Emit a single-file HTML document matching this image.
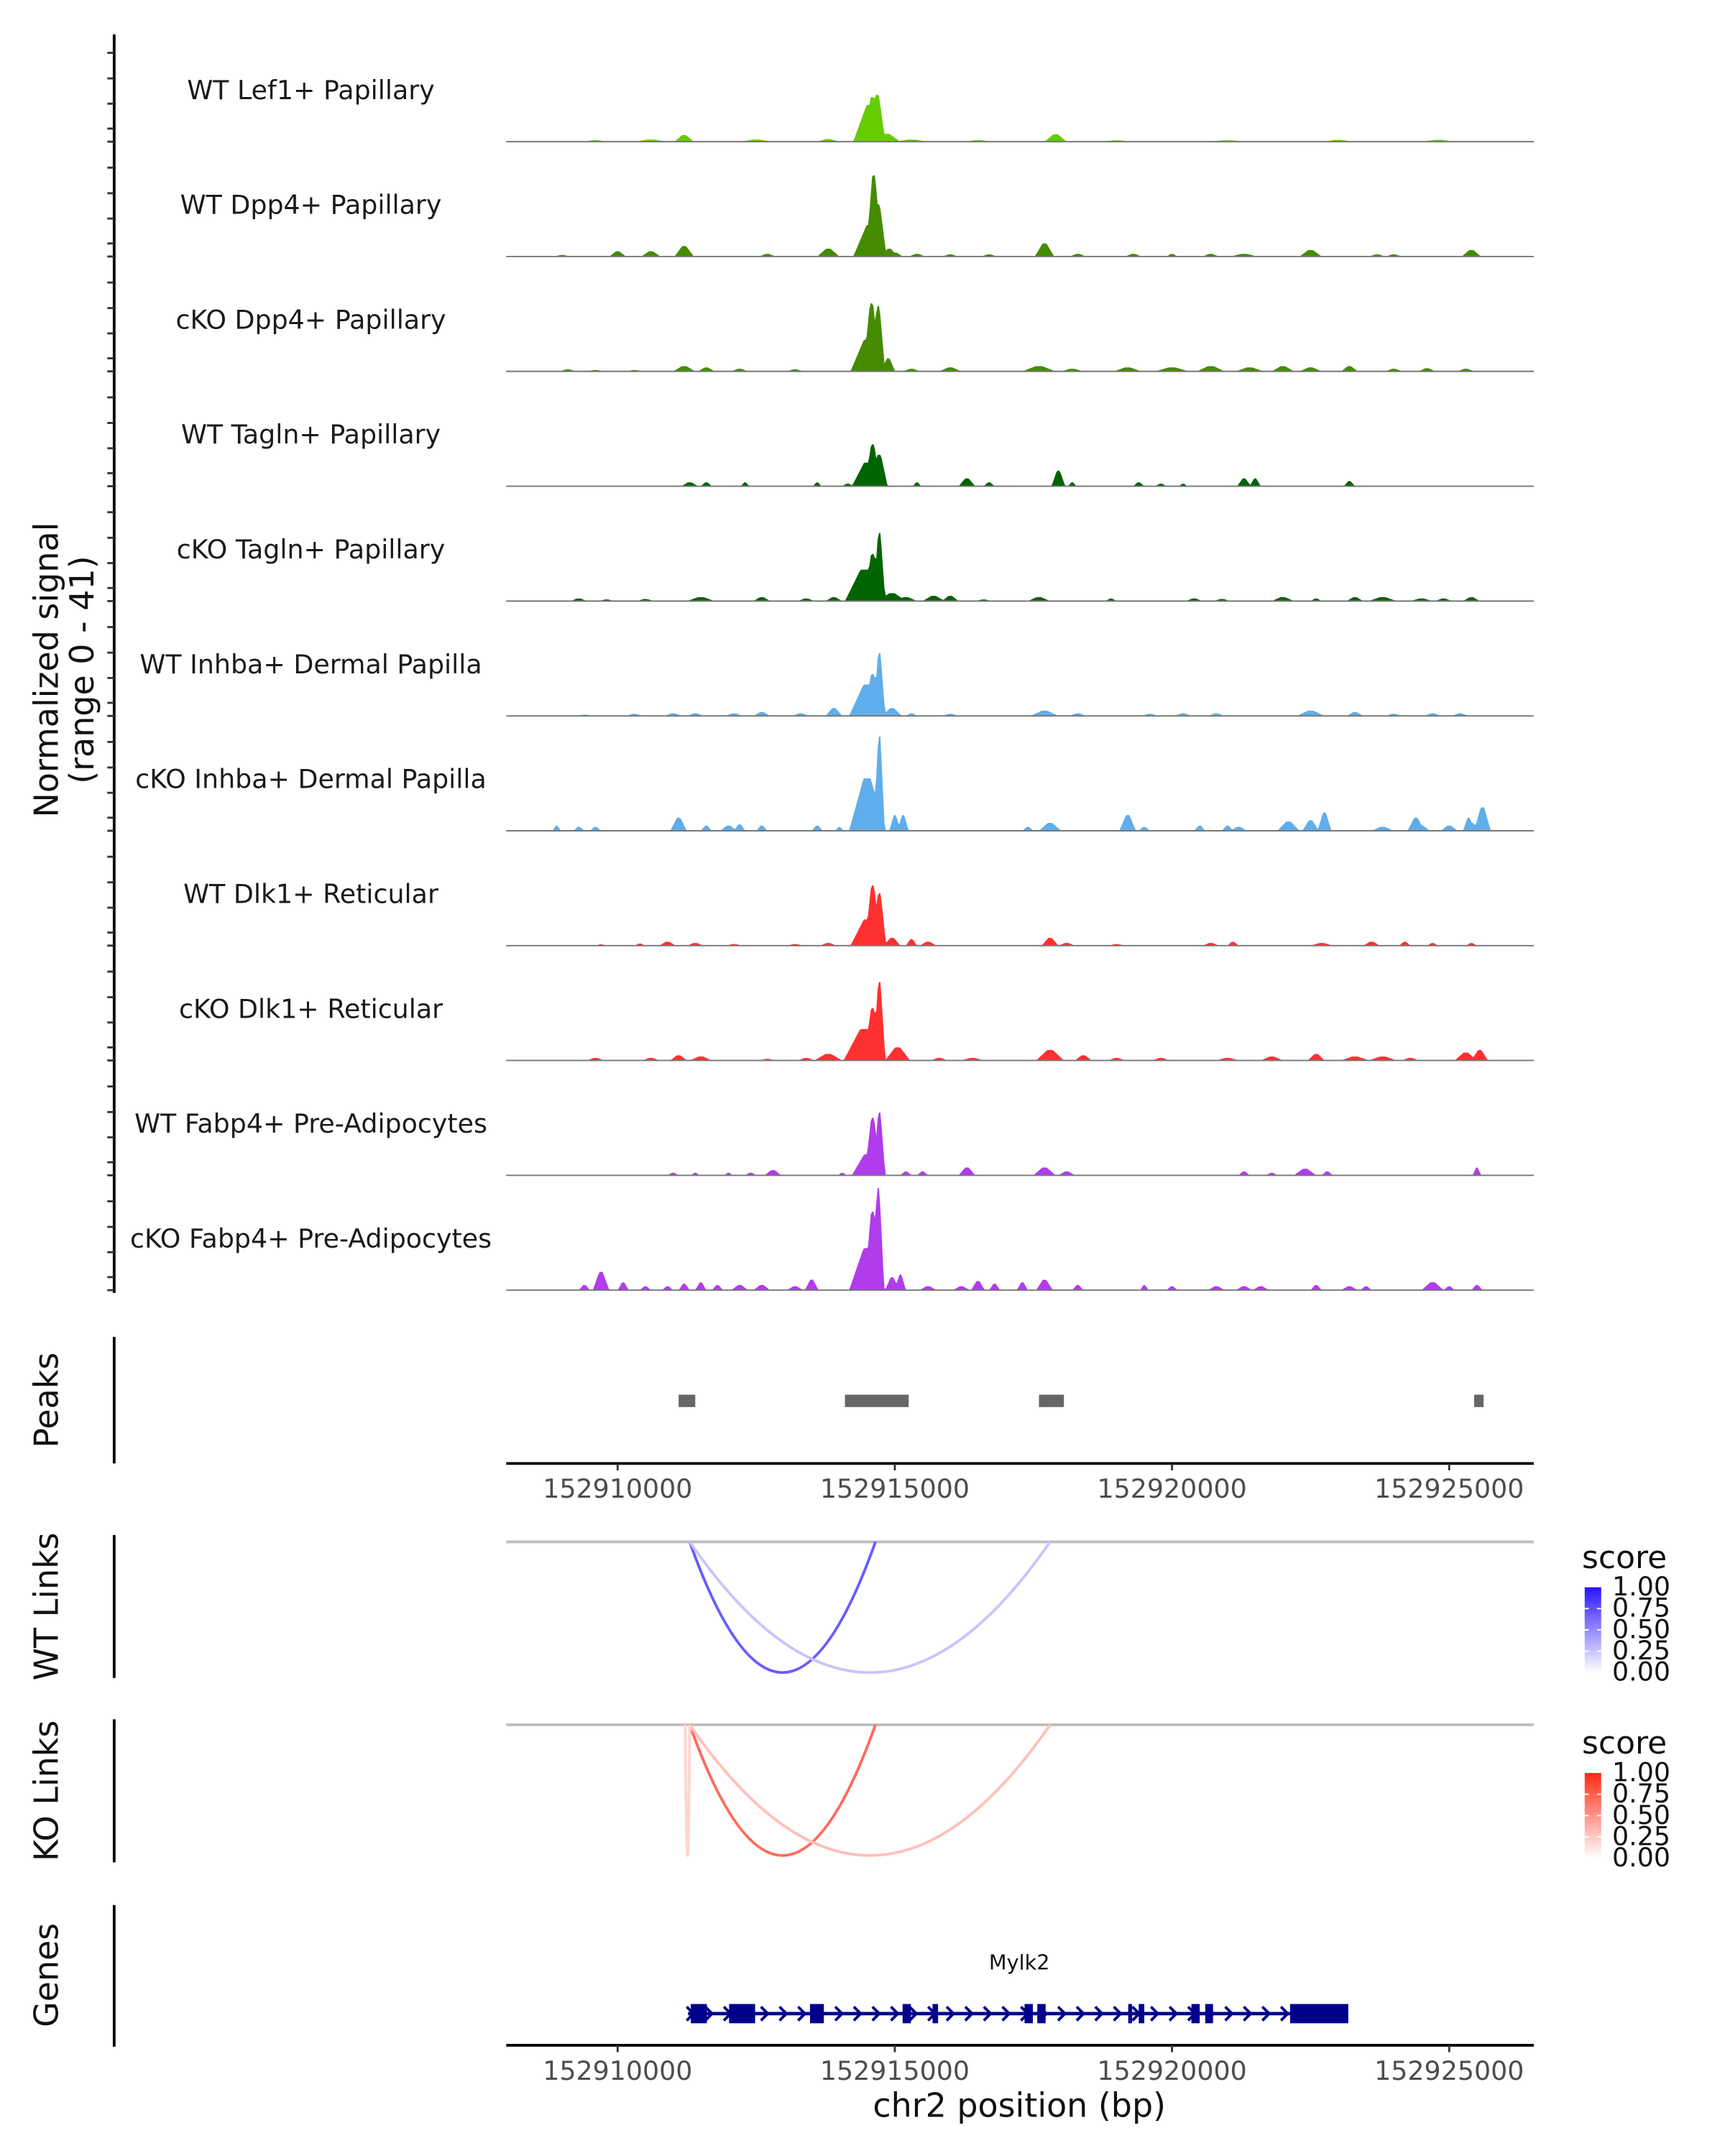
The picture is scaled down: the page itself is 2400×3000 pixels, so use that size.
<!DOCTYPE html>
<html><head><meta charset="utf-8"><style>
html,body{margin:0;padding:0;background:#fff}
svg{display:block}
text{font-family:"DejaVu Sans","Liberation Sans",sans-serif}
</style></head><body>
<svg id="chart" xmlns="http://www.w3.org/2000/svg" width="2400" height="3000" viewBox="0 0 1254 1567.5">
<rect x="0" y="0" width="1254" height="1567.5" fill="#fff"/>
<g id="tracks"></g>
<g id="yaxis"></g>
<text transform="translate(42,487) rotate(-90)" text-anchor="middle" font-size="24" fill="#111">Normalized signal</text>
<text transform="translate(68,487) rotate(-90)" text-anchor="middle" font-size="24" fill="#111">(range 0 - 41)</text>

<text transform="translate(42,1018) rotate(-90)" text-anchor="middle" font-size="24" fill="#111">Peaks</text>
<line x1="83" y1="972" x2="83" y2="1064" stroke="#000" stroke-width="2"/>
<g id="peaks"></g>
<g id="xaxis1"></g>

<text transform="translate(42,1168) rotate(-90)" text-anchor="middle" font-size="24" fill="#111">WT Links</text>
<line x1="83" y1="1116" x2="83" y2="1220" stroke="#000" stroke-width="2"/>
<g id="wtlinks"></g>

<text transform="translate(42,1302) rotate(-90)" text-anchor="middle" font-size="24" fill="#111">KO Links</text>
<line x1="83" y1="1250" x2="83" y2="1354" stroke="#000" stroke-width="2"/>
<g id="kolinks"></g>

<defs>
<linearGradient id="gb" x1="0" y1="0" x2="0" y2="1"><stop offset="0" stop-color="#2814ff"/><stop offset="1" stop-color="#ffffff"/></linearGradient>
<linearGradient id="gr" x1="0" y1="0" x2="0" y2="1"><stop offset="0" stop-color="#ff2a14"/><stop offset="1" stop-color="#ffffff"/></linearGradient>
</defs>
<g id="legends"></g>

<text transform="translate(42,1436) rotate(-90)" text-anchor="middle" font-size="24" fill="#111">Genes</text>
<line x1="83" y1="1385" x2="83" y2="1488" stroke="#000" stroke-width="2"/>
<g id="genes"></g>
<g id="xaxis2"></g>
<text x="741" y="1539" text-anchor="middle" font-size="24" fill="#111">chr2 position (bp)</text>
</svg>
<script>
// positions in kb offset from 152,900,000 bp; heights in normalized signal units; widths in kb
const trackNames = ["WT Lef1+ Papillary","WT Dpp4+ Papillary","cKO Dpp4+ Papillary","WT Tagln+ Papillary","cKO Tagln+ Papillary","WT Inhba+ Dermal Papilla","cKO Inhba+ Dermal Papilla","WT Dlk1+ Reticular","cKO Dlk1+ Reticular","WT Fabp4+ Pre-Adipocytes","cKO Fabp4+ Pre-Adipocytes"];
const trackColors = ["#66cc00","#458b00","#458b00","#006400","#006400","#5fadea","#5fadea","#ff3030","#ff3030","#b03ceb","#b03ceb"];
const sigLef1 = [[14.55,14,0.6],[14.6,17,0.35],[14.68,18,0.3],[14.85,3,0.5],[11.2,2.5,0.35],[17.9,2.8,0.4],[9.6,0.6,0.4],[10.6,0.8,0.6],[12.5,0.8,0.6],[13.8,1,0.4],[15.3,0.8,0.6],[16.5,0.6,0.5],[19.0,0.5,0.6],[21.0,0.5,0.8],[23.0,0.7,0.5],[24.8,0.7,0.6]];
const sigWTDpp4 = [[14.55,12,0.6],[14.62,31,0.28],[14.7,20,0.3],[14.9,3,0.3],[11.2,4,0.35],[10.0,2,0.3],[10.6,2,0.35],[13.8,3,0.4],[12.7,1,0.3],[15.0,1.5,0.3],[15.4,1,0.3],[17.7,5,0.35],[18.3,1,0.3],[19.3,1,0.3],[20.0,1,0.2],[21.3,1,0.5],[22.5,2.5,0.4],[24.0,0.8,0.3],[25.4,2.5,0.35],[9.0,0.6,0.3],[16.0,0.8,0.3],[16.7,0.8,0.3],[20.7,1,0.3],[23.7,0.8,0.3]];
const sigKODpp4 = [[14.5,12,0.6],[14.58,26,0.3],[14.7,25,0.25],[14.88,5,0.25],[9.1,0.8,0.3],[11.2,2,0.4],[11.6,1.5,0.3],[12.2,1,0.3],[13.2,0.8,0.3],[15.3,1,0.3],[16.0,1.5,0.4],[17.6,2,0.6],[18.2,1,0.4],[19.2,1.5,0.5],[20.0,1.5,0.6],[20.7,2,0.5],[21.4,1.5,0.5],[22.0,2,0.4],[22.5,1.5,0.4],[23.2,2,0.3],[24.0,1,0.3],[24.6,1.2,0.3],[25.3,1,0.3],[10.3,0.5,0.3],[9.6,0.5,0.3]];
const sigWTTagln = [[14.5,9,0.55],[14.6,16,0.28],[14.72,12,0.3],[11.3,1.5,0.3],[11.6,1.5,0.2],[12.3,1.5,0.15],[13.6,1.5,0.15],[14.15,1,0.2],[15.4,1.5,0.15],[16.3,3,0.3],[16.7,1.5,0.2],[17.95,6,0.25],[18.2,1.5,0.15],[19.4,1.5,0.2],[19.8,1,0.2],[20.2,1,0.15],[21.3,3,0.25],[21.5,3,0.2],[23.2,2,0.2]];
const sigKOTagln = [[14.45,12,0.7],[14.6,18,0.3],[14.72,26,0.22],[14.95,3,0.5],[9.3,1,0.3],[9.8,0.6,0.3],[10.5,0.8,0.3],[11.5,1.5,0.5],[12.6,1.5,0.3],[13.4,1,0.3],[13.9,1.5,0.3],[15.2,1.5,0.4],[15.7,2,0.4],[16.0,2,0.3],[16.6,0.6,0.3],[17.6,1.5,0.4],[18.9,1,0.2],[20.4,1,0.3],[20.9,0.8,0.3],[22.0,1.5,0.4],[22.6,1,0.2],[23.3,1.5,0.3],[23.8,1.5,0.5],[24.5,1,0.4],[25.4,1.5,0.3],[24.9,1,0.3]];
const sigWTInhba = [[14.5,12,0.65],[14.6,16,0.3],[14.72,24,0.22],[14.95,3,0.35],[15.3,1,0.2],[10.3,0.8,0.3],[11.0,1,0.3],[11.4,1,0.3],[12.1,1,0.3],[12.6,1.5,0.3],[13.3,1,0.3],[13.9,3,0.3],[16.0,0.8,0.3],[17.7,2,0.5],[18.3,1,0.3],[19.6,0.8,0.3],[20.2,1,0.3],[20.8,1,0.3],[22.5,2,0.5],[23.3,1.5,0.3],[24.0,0.8,0.3],[24.7,1,0.3],[25.2,1,0.3],[9.4,0.5,0.3]];
const sigKOInhba = [[14.5,20,0.65],[14.6,16,0.3],[14.72,36,0.2],[15.0,6,0.2],[15.15,6,0.2],[8.9,2,0.15],[9.3,1.5,0.2],[9.6,1.5,0.2],[11.1,5,0.3],[11.6,2,0.2],[12.0,2,0.3],[12.2,2.5,0.2],[12.6,2,0.2],[13.6,2,0.2],[14.0,1.5,0.15],[17.4,1.5,0.2],[17.8,3,0.4],[19.2,6,0.3],[19.5,1.5,0.2],[20.5,2,0.2],[21.0,2,0.2],[21.2,1.5,0.3],[22.1,3.5,0.4],[22.5,4,0.3],[22.75,7,0.25],[23.8,1.5,0.4],[24.4,5,0.3],[24.5,2,0.3],[25.0,2,0.3],[25.4,3,0.3],[25.6,9,0.3],[25.35,5,0.2]];
const sigWTDlk1 = [[14.5,10,0.6],[14.6,23,0.28],[14.72,20,0.25],[14.95,3,0.3],[15.3,2.5,0.2],[9.7,0.5,0.2],[10.4,0.8,0.2],[10.9,1.5,0.3],[11.4,1,0.3],[12.1,0.6,0.3],[13.2,0.6,0.3],[13.8,1,0.3],[15.6,1.5,0.3],[17.8,3,0.3],[18.1,1,0.3],[19.0,0.6,0.3],[20.7,1,0.3],[21.1,1.5,0.2],[22.7,1,0.4],[23.6,1.5,0.3],[24.2,1.5,0.2],[24.7,1,0.2],[25.4,1,0.2]];
const sigKODlk1 = [[14.45,12,0.75],[14.6,20,0.3],[14.72,30,0.22],[15.05,5,0.45],[9.6,1,0.3],[10.6,1,0.3],[11.1,2,0.3],[11.5,1.5,0.4],[12.7,0.6,0.3],[13.4,1,0.3],[13.8,2.5,0.5],[15.8,1,0.3],[16.4,1,0.4],[17.8,4,0.5],[18.4,2,0.3],[19.0,1,0.3],[19.8,1,0.3],[21.0,1,0.4],[21.8,1.5,0.4],[22.6,2.5,0.3],[23.8,1.5,0.5],[24.3,1,0.3],[25.3,3,0.4],[25.55,4,0.3],[23.3,1.5,0.5]];
const sigWTFabp4 = [[14.5,8,0.55],[14.6,22,0.28],[14.72,24,0.22],[11.0,1,0.2],[11.4,1,0.15],[12.0,1,0.15],[12.4,1,0.2],[12.8,2,0.3],[14.05,1,0.15],[15.2,1.5,0.2],[15.5,1.5,0.2],[16.3,3,0.3],[17.7,3,0.4],[18.1,1.5,0.3],[21.3,1.5,0.2],[21.8,1,0.2],[22.4,2.5,0.4],[22.8,1.5,0.2],[25.5,3,0.15]];
const sigKOFabp4 = [[14.5,16,0.65],[14.6,30,0.3],[14.7,39,0.22],[14.95,5,0.25],[15.1,6,0.2],[9.4,2,0.2],[9.7,7,0.3],[10.1,3,0.2],[10.5,1.5,0.2],[10.9,1.5,0.2],[11.2,2.5,0.2],[11.5,3,0.2],[11.8,2,0.2],[12.2,2,0.3],[12.6,2,0.3],[13.2,1.5,0.3],[13.5,4,0.25],[15.6,1.5,0.3],[16.2,1.5,0.3],[16.5,3.5,0.25],[16.8,2.5,0.2],[17.3,3,0.2],[17.7,4,0.3],[18.3,2,0.2],[19.5,2,0.15],[20.0,1.5,0.2],[20.8,1.5,0.3],[21.3,1.5,0.3],[21.6,1.5,0.3],[22.6,2,0.2],[23.2,1.5,0.3],[23.5,1.5,0.2],[24.7,3,0.4],[25.0,1.5,0.2],[25.5,2,0.2]];
const signals = [sigLef1,sigWTDpp4,sigKODpp4,sigWTTagln,sigKOTagln,sigWTInhba,sigKOInhba,sigWTDlk1,sigKODlk1,sigWTFabp4,sigKOFabp4];
const peakStarts = [11.1,14.1,17.6,25.45];
const peakEnds = [11.4,15.25,18.05,25.62];
const xTicks = [10,15,20,25];
const xTickLabels = ["152910000","152915000","152920000","152925000"];
const wtLinkStart = [11.3,11.3];
const wtLinkEnd = [14.65,17.8];
const wtLinkScore = [0.7,0.25];
const koLinkStart = [11.3,11.3,11.22];
const koLinkEnd = [14.65,17.8,11.3];
const koLinkScore = [0.7,0.3,0.2];
const legendTicks = [1.00,0.75,0.50,0.25,0.00];
const exonStarts = [11.32,12.01,13.47,15.14,15.68,17.34,17.57,19.21,19.40,20.35,20.60,22.13];
const exonEnds = [11.61,12.48,13.72,15.29,15.78,17.49,17.72,19.28,19.50,20.50,20.74,23.18];
const geneStart = 11.27, geneEnd = 23.18;

const NS='http://www.w3.org/2000/svg';
const X0=368, X1=1115;
function xs(k){return 449+(k-10)*40.3;}
function ys(v,base){return base - v*78/41;}
function mk(tag,attrs,parent){const e=document.createElementNS(NS,tag);for(const a in attrs)e.setAttribute(a,attrs[a]);parent.appendChild(e);return e;}

const tg=document.getElementById('tracks');
const ya=document.getElementById('yaxis');
const line=mk('line',{x1:83,y1:25,x2:83,y2:940,stroke:'#000','stroke-width':2},ya);


for(let i=0;i<signals.length;i++){
  const base=103+83.5*i;
  const g=mk('g',{},tg);
  
  
  const lab=mk('text',{x:226,y:base-31,'text-anchor':'middle','font-size':19,fill:'#1a1a1a'},g);
  lab.textContent=trackNames[i];
  
  
  let d='M'+X0+','+base;
  for(let px=X0;px<=X1;px+=1){
    const k=10+(px-449)/40.3;
    let v=0;
    for(const b of signals[i]){const t=1-Math.abs(k-b[0])/(b[2]/2);if(t>0){const val=b[1]*Math.min(1,t*1.25);if(val>v)v=val;}}
    d+=' L'+px+','+ys(v,base).toFixed(2);
  }
  d+=' L'+X1+','+base+' Z';
  const area=mk('path',{d:d,fill:trackColors[i]},g);
  
  
  const bl=mk('line',{x1:X0,y1:base,x2:X1,y2:base,stroke:'#777','stroke-width':1},g);
  
  
  const offs=[0,9.5,27.6,46,64.6];
  for(const o of offs){
    const t=mk('line',{x1:78,y1:base-o,x2:83,y2:base-o,stroke:'#333','stroke-width':1.5},ya);
    
    
  }
}

const pg=document.getElementById('peaks');
for(let i=0;i<peakStarts.length;i++){
  const r=mk('rect',{x:xs(peakStarts[i]),y:1014,width:xs(peakEnds[i])-xs(peakStarts[i]),height:9,fill:'#666'},pg);
  
  
}
function xaxis(id,y){
  const g=document.getElementById(id);
  const l=mk('line',{x1:X0,y1:y,x2:X1,y2:y,stroke:'#000','stroke-width':2},g);
  
  
  for(let i=0;i<xTicks.length;i++){
    const t=mk('line',{x1:xs(xTicks[i]),y1:y,x2:xs(xTicks[i]),y2:y+5,stroke:'#333','stroke-width':1.5},g);
    
    
    const tx=mk('text',{x:xs(xTicks[i]),y:y+25,'text-anchor':'middle','font-size':19,fill:'#4d4d4d'},g);
    tx.textContent=xTickLabels[i];
    
    
  }
}
xaxis('xaxis1',1064);
xaxis('xaxis2',1487);

function mix(top,s){return 'rgb('+top.map(c=>Math.round(255*(1-s)+c*s)).join(',')+')';}
function links(id,base,starts,ends,scores,top){
  const g=document.getElementById(id);
  const bl=mk('line',{x1:X0,y1:base,x2:X1,y2:base,stroke:'#bdbdbd','stroke-width':2},g);
  
  
  const bottom=base+95;
  for(let i=0;i<starts.length;i++){
    const a=xs(starts[i]),b=xs(ends[i]);
    const p=mk('path',{d:'M'+a+','+base+' Q'+((a+b)/2)+','+(2*bottom-base)+' '+b+','+base,fill:'none',stroke:mix(top,scores[i]),'stroke-width':2},g);
    
    
  }
}
links('wtlinks',1121,wtLinkStart,wtLinkEnd,wtLinkScore,[40,20,255]);
links('kolinks',1254,koLinkStart,koLinkEnd,koLinkScore,[255,42,20]);

const lg=document.getElementById('legends');
function legend(y0,grad,nm){
  const g=mk('g',{},lg);
  
  
  const t=mk('text',{x:1150,y:y0,'font-size':23,fill:'#111'},g);
  t.textContent='score';
  const r=mk('rect',{x:1152,y:y0+14,width:12,height:62,fill:'url(#'+grad+')'},g);
  
  
  for(let i=0;i<legendTicks.length;i++){
    const yy=y0+14+(1-legendTicks[i])*62;
    const tl=mk('text',{x:1172,y:yy+6,'font-size':19,fill:'#111'},g);
    tl.textContent=legendTicks[i].toFixed(2);
    
    
    if(i>0&&i<4){mk('line',{x1:1152,y1:yy,x2:1155,y2:yy,stroke:'#fff'},g);mk('line',{x1:1161,y1:yy,x2:1164,y2:yy,stroke:'#fff'},g);}
  }
}
legend(1140,'gb','wt-score-legend');
legend(1275,'gr','ko-score-legend');

const gg=document.getElementById('genes');
const gname=mk('text',{x:741,y:1432,'text-anchor':'middle','font-size':15,fill:'#111'},gg);
gname.textContent='Mylk2';


const gy=1464;
const gl=mk('line',{x1:xs(geneStart),y1:gy,x2:xs(geneEnd),y2:gy,stroke:'#00008b','stroke-width':2.5},gg);


let ad='';
for(let px=xs(geneStart)+2;px<xs(geneEnd);px+=13.5){ad+='M'+(px-3)+','+(gy-5)+' L'+(px+2)+','+gy+' L'+(px-3)+','+(gy+5)+' ';}
const ar=mk('path',{d:ad,fill:'none',stroke:'#00008b','stroke-width':2},gg);


for(let i=0;i<exonStarts.length;i++){
  const e=mk('rect',{x:xs(exonStarts[i]),y:gy-7,width:Math.max(2,xs(exonEnds[i])-xs(exonStarts[i])),height:14,fill:'#00008b'},gg);
  
  
}
</script>
</body></html>
